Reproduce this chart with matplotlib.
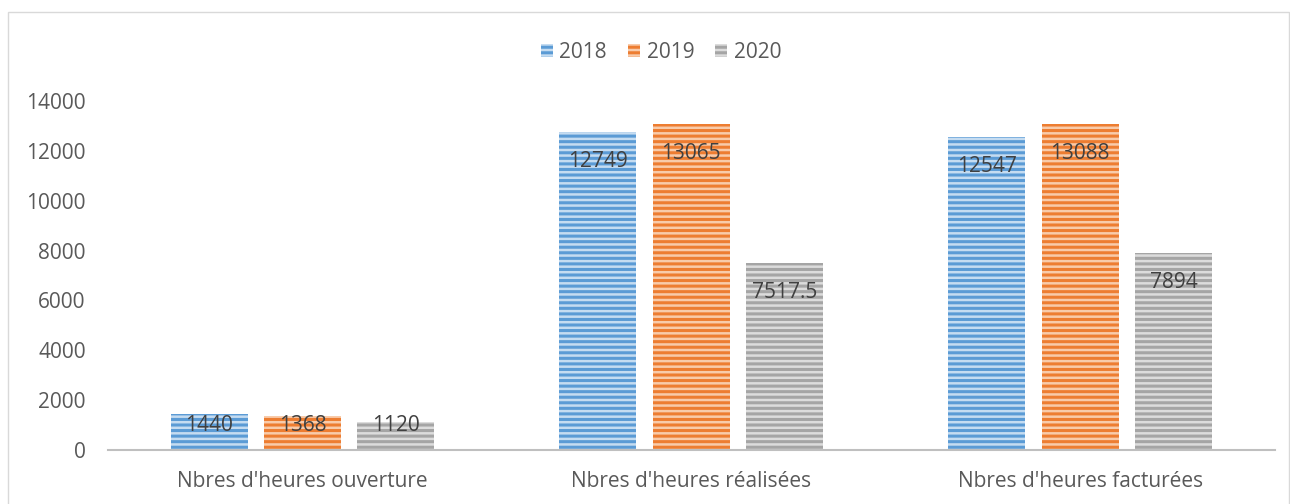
import matplotlib.pyplot as plt
import numpy as np
from matplotlib.patches import Rectangle

plt.rcParams['font.family'] = ['Open Sans', 'DejaVu Sans']
plt.rcParams['hatch.linewidth'] = 2.2

categories = ["Nbres d'heures ouverture", "Nbres d'heures réalisées", "Nbres d'heures facturées"]
years = ["2018", "2019", "2020"]
values_2018 = [1440, 12749, 12547]
values_2019 = [1368, 13065, 13088]
values_2020 = [1120, 7517.5, 7894]
labels_2018 = ["1440", "12749", "12547"]
labels_2019 = ["1368", "13065", "13088"]
labels_2020 = ["1120", "7517.5", "7894"]

colors = ['#5B9BD5', '#ED7D31', '#A5A5A5']
light = ['#C5DCF1', '#F8CBAA', '#DCDCDC']

fig = plt.figure(figsize=(12.9, 5.04), dpi=100)
ax = fig.add_axes([0.0837, 0.107, 0.9043, 0.6926])

x = np.arange(len(categories))
width = 0.198
offset = 0.24
series = [(values_2018, labels_2018), (values_2019, labels_2019), (values_2020, labels_2020)]

for i, (vals, labs) in enumerate(series):
    pos = x + (i - 1) * offset
    ax.bar(pos, vals, width, facecolor=light[i], edgecolor=colors[i], linewidth=0,
           hatch='---', label=years[i])
    for px, v, lab in zip(pos, vals, labs):
        ly = max(v - 1180, 1000)
        ax.text(px, ly, lab, ha='center', va='center', fontsize=15, color='#404040')

ax.set_xlim(-0.5, 2.5)
ax.set_ylim(0, 14000)
ax.set_yticks(np.arange(0, 14001, 2000))
ax.set_xticks(x)
ax.set_xticklabels(categories)
ax.tick_params(axis='both', length=0, labelsize=15, colors='#595959')
ax.tick_params(axis='y', pad=16)
ax.tick_params(axis='x', pad=15)
for s in ['top', 'right', 'left']:
    ax.spines[s].set_visible(False)
ax.spines['bottom'].set_color('#BFBFBF')
ax.spines['bottom'].set_linewidth(1.5)

leg = ax.legend(loc='center', bbox_to_anchor=(0.474, 1.14), ncol=3, frameon=False,
                fontsize=15, handlelength=0.6, handleheight=0.6, columnspacing=1.0,
                handletextpad=0.3)
for t in leg.get_texts():
    t.set_color('#595959')

fig.patches.append(Rectangle((8 / 1290, -0.02), 1281 / 1290, 1.0 - 12 / 504 + 0.02,
                             transform=fig.transFigure, fill=False,
                             edgecolor='#D9D9D9', linewidth=1))

fig.savefig('out.png', dpi=100)
